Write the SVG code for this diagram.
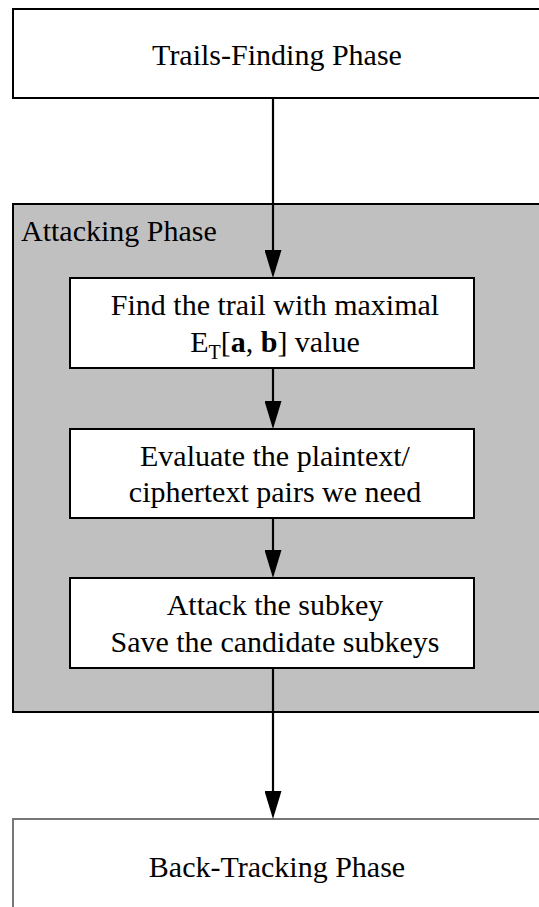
<svg xmlns="http://www.w3.org/2000/svg" width="539" height="907" viewBox="0 0 539 907">
  <defs>
    <style>
      text { font-family: "Liberation Serif", "Times New Roman", serif; font-size: 30px; fill: #000; }
      .mid { text-anchor: middle; }
      .box { fill: #fff; stroke: #000; stroke-width: 2; }
      .faint { fill: #fff; stroke: #777; stroke-width: 2; }
      .panel { fill: #c0c0c0; stroke: #000; stroke-width: 2; }
      .edge { stroke: #000; stroke-width: 2.2; fill: none; marker-end: url(#head); }
      .b { font-weight: bold; }
    </style>
    <marker id="head" viewBox="0 0 28 17" refX="14" refY="8.5" markerUnits="userSpaceOnUse" markerWidth="28" markerHeight="17" orient="auto">
      <path d="M0,0 L28,8.5 L0,17 Z" fill="#000"/>
    </marker>
  </defs>

  <!-- outer phases -->
  <g id="trails-finding">
    <rect class="box" x="13" y="9" width="540" height="89"/>
    <text class="mid" x="277" y="65">Trails-Finding Phase</text>
  </g>

  <g id="attacking">
    <rect class="panel" x="13" y="204" width="540" height="508"/>
    <text x="21" y="241">Attacking Phase</text>
  </g>

  <g id="find-trail">
    <rect class="box" x="70" y="278" width="404" height="90"/>
    <text class="mid" x="275" y="315">Find the trail with maximal</text>
    <text class="mid" x="275" y="352">E<tspan font-size="20" dy="7">T</tspan><tspan dy="-7">[</tspan><tspan class="b">a</tspan>, <tspan class="b">b</tspan>] value</text>
  </g>

  <g id="evaluate-pairs">
    <rect class="box" x="70" y="429" width="404" height="89"/>
    <text class="mid" x="275" y="466">Evaluate the plaintext/</text>
    <text class="mid" x="275" y="502">ciphertext pairs we need</text>
  </g>

  <g id="attack-subkey">
    <rect class="box" x="70" y="578" width="404" height="90"/>
    <text class="mid" x="275" y="615">Attack the subkey</text>
    <text class="mid" x="275" y="652">Save the candidate subkeys</text>
  </g>

  <g id="back-tracking">
    <rect class="faint" x="13" y="819" width="540" height="100"/>
    <text class="mid" x="277" y="877">Back-Tracking Phase</text>
  </g>

  <!-- connectors -->
  <g id="connectors">
    <line class="edge" x1="273" y1="98" x2="273" y2="264"/>
    <line class="edge" x1="273" y1="368" x2="273" y2="415"/>
    <line class="edge" x1="273" y1="518" x2="273" y2="564"/>
    <line class="edge" x1="273" y1="668" x2="273" y2="805"/>
  </g>
</svg>
